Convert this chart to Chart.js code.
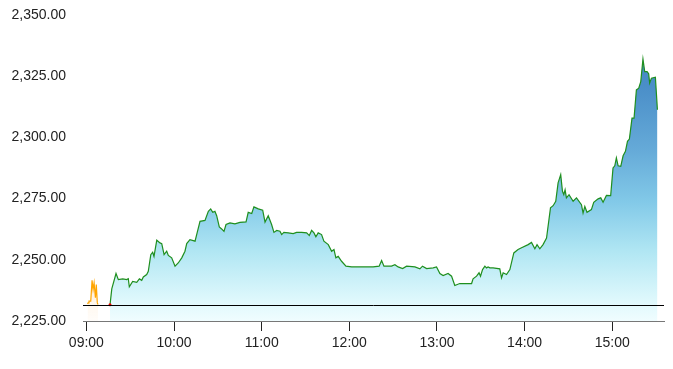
<!DOCTYPE html>
<html>
<head>
<meta charset="utf-8">
<script src="https://cdn.jsdelivr.net/npm/chart.js@4"></script>
<style>
  body { margin: 0; background: #fff; }
  #wrap { width: 673px; height: 369px; }
</style>
</head>
<body>
<div id="wrap"><canvas id="priceChart"></canvas></div>
<script>
// minutes after 09:00 and price
const times = [16.2,17.4,20.3,21.9,24.9,27.6,28.7,29.4,31.7,34.5,36.3,37.9,39.0,41.3,42.4,44.1,45.4,46.3,48.2,50.4,
  51.6,53.2,55.0,56.1,58.4,60.7,62.9,65.3,67.5,68.7,70.9,74.4,75.9,77.8,81.2,83.5,85.1,86.5,88.0,89.2,
  91.0,92.6,94.2,95.6,98.3,101.7,105.1,109.3,110.8,113.2,114.7,117.7,120.7,122.3,124.5,126.8,128.4,130.3,132.5,133.7,
  135.2,138.2,141.6,143.9,147.4,150.8,152.6,154.2,155.8,157.1,158.7,161.0,162.6,165.6,167.9,169.5,170.8,172.4,174.7,177.7,
  181.6,187.2,191.8,196.3,200.4,202.1,203.7,208.9,211.2,213.4,216.5,219.2,224.9,228.3,230.1,232.9,237.4,239.7,242.0,244.2,
  247.6,250.0,252.2,255.6,263.7,264.7,267.1,268.8,269.8,271.2,272.8,273.9,275.0,276.2,278.4,283.0,284.2,285.3,287.6,289.9,
  292.6,295.5,297.9,302.4,304.7,307.0,308.5,310.4,312.6,315.0,317.7,319.5,321.3,322.9,324.7,325.9,326.8,327.7,328.6,330.4,
  333.2,335.5,338.9,340.0,341.2,342.7,345.7,347.3,350.3,352.1,353.7,356.0,358.9,360.5,361.7,362.8,364.0,365.8,367.4,369.0,
  370.4,371.7,373.5,374.9,376.5,378.1,379.5,381.0,382.2,383.8,384.9,385.6,386.8,389.5,390.9];
const prices = [2231.6,2238.1,2244.4,2241.9,2242.2,2241.9,2242.3,2239.0,2241.2,2240.8,2242.2,2241.6,2243.0,2244.0,2245.3,2252.1,2253.1,2251.4,2258.0,2256.9,
  2256.6,2252.1,2253.5,2251.8,2250.8,2247.4,2248.7,2250.8,2253.5,2256.6,2258.2,2257.6,2261.2,2265.7,2266.1,2269.8,2270.8,2269.4,2269.8,2268.0,
  2263.4,2262.6,2261.6,2264.4,2265.1,2264.7,2265.3,2265.5,2269.4,2268.9,2271.6,2270.8,2270.3,2265.4,2268.0,2264.4,2261.2,2262.0,2261.7,2260.3,
  2261.2,2261.0,2260.7,2261.2,2261.2,2261.0,2259.9,2262.0,2261.0,2259.4,2261.0,2260.3,2257.6,2256.2,2253.5,2254.2,2250.8,2251.4,2249.4,2247.4,
  2247.1,2247.1,2247.1,2247.1,2247.4,2249.7,2247.4,2247.4,2248.0,2247.1,2246.4,2247.4,2247.1,2246.3,2247.4,2246.4,2246.7,2247.1,2244.4,2243.6,
  2244.4,2243.3,2239.5,2240.3,2240.3,2242.2,2243.3,2244.7,2243.3,2246.0,2247.4,2246.7,2247.1,2246.7,2246.7,2246.3,2242.6,2244.7,2244.0,2246.0,
  2252.8,2254.2,2254.9,2256.2,2257.1,2254.5,2256.2,2254.5,2256.2,2258.9,2271.2,2272.1,2273.9,2281.4,2284.8,2278.0,2276.6,2278.6,2275.3,2276.6,
  2273.9,2275.3,2272.5,2269.1,2271.8,2269.4,2270.5,2273.5,2274.9,2275.3,2273.5,2276.3,2276.2,2287.5,2288.4,2291.6,2288.4,2288.2,2292.5,2294.3,
  2298.4,2299.3,2307.9,2307.9,2319.4,2320.1,2322.8,2332.0,2326.9,2326.9,2326.0,2322.2,2324.2,2324.6,2311.3];

// pre-open auction (orange)
const preTimes = [0.8,1.2,1.8,3.0,3.9,4.6,5.3,6.2,6.8,7.5,8.0];
const prePrices = [2232.0,2232.4,2233.1,2233.1,2241.6,2237.9,2240.6,2234.5,2239.9,2232.4,2231.7];

const prevClose = 2231.7;

const tickMinutes = [0, 60, 120, 180, 240, 300, 360];
const tickLabels = ['09:00', '10:00', '11:00', '12:00', '13:00', '14:00', '15:00'];

const xMin = -2.3;
const xMax = 395.4;

function areaGradient(ctx, stops) {
  const area = ctx.chart.chartArea;
  if (!area) return stops[0][1];
  const g = ctx.chart.ctx.createLinearGradient(0, area.top, 0, area.bottom);
  stops.forEach(s => g.addColorStop(s[0], s[1]));
  return g;
}

const prevCloseLine = {
  id: 'prevCloseLine',
  afterDatasetsDraw(chart) {
    const { ctx, chartArea, scales } = chart;
    const y = Math.round(scales.y.getPixelForValue(prevClose)) + 0.5;
    ctx.save();
    ctx.strokeStyle = '#000';
    ctx.lineWidth = 1;
    ctx.beginPath();
    ctx.moveTo(chartArea.left, y);
    ctx.lineTo(chartArea.right, y);
    ctx.stroke();
    ctx.restore();
  }
};

Chart.defaults.font.family = '"Liberation Sans", Arial, sans-serif';
Chart.defaults.font.size = 14;
Chart.defaults.color = '#222';

new Chart(document.getElementById('priceChart'), {
  type: 'line',
  data: {
    datasets: [{
      data: times.map((t, i) => ({ x: t, y: prices[i] })),
      borderColor: '#1f8f1f',
      borderWidth: 1.2,
      tension: 0,
      pointRadius: ctx => ctx.dataIndex === 0 ? 1.5 : 0,
      pointBackgroundColor: '#e00',
      pointBorderWidth: 0,
      fill: 'start',
      backgroundColor: ctx => areaGradient(ctx, [
        [0, '#3c7fc0'], [0.23, '#4a8ec8'], [0.44, '#65aad8'], [0.61, '#82c9e8'],
        [0.77, '#b0e6f3'], [0.93, '#def8fc'], [1, '#f0fdff']
      ])
    }, {
      data: preTimes.map((t, i) => ({ x: t, y: prePrices[i] })),
      borderColor: '#ffa500',
      borderWidth: 1.2,
      tension: 0,
      pointRadius: 0,
      fill: 'start',
      backgroundColor: ctx => areaGradient(ctx, [
        [0, 'rgba(255,165,0,0.5)'], [0.85, 'rgba(255,190,110,0.35)'], [1, 'rgba(255,230,200,0.1)']
      ])
    }]
  },
  options: {
    responsive: true,
    maintainAspectRatio: false,
    animation: false,
    layout: { padding: { top: 15, right: 9, left: 0, bottom: 0 } },
    plugins: { legend: { display: false }, tooltip: { enabled: false } },
    scales: {
      x: {
        type: 'linear',
        min: xMin,
        max: xMax,
        afterBuildTicks: scale => { scale.ticks = tickMinutes.map(v => ({ value: v })); },
        afterFit: scale => { scale.height = 48; },
        ticks: {
          padding: 4,
          maxRotation: 0,
          callback: value => tickLabels[tickMinutes.indexOf(value)]
        },
        grid: { drawOnChartArea: false, drawTicks: true, tickLength: 10, color: '#222' },
        border: { display: true, color: '#777' }
      },
      y: {
        min: 2225,
        max: 2350,
        afterFit: scale => {
          scale.width = 83;
          scale.paddingTop = 0;
          scale.paddingBottom = 0;
        },
        ticks: {
          stepSize: 25,
          padding: 17,
          callback: v => v.toLocaleString('en-US', { minimumFractionDigits: 2, maximumFractionDigits: 2 })
        },
        grid: { display: false, drawTicks: false },
        border: { display: false }
      }
    }
  },
  plugins: [prevCloseLine]
});
</script>
</body>
</html>
